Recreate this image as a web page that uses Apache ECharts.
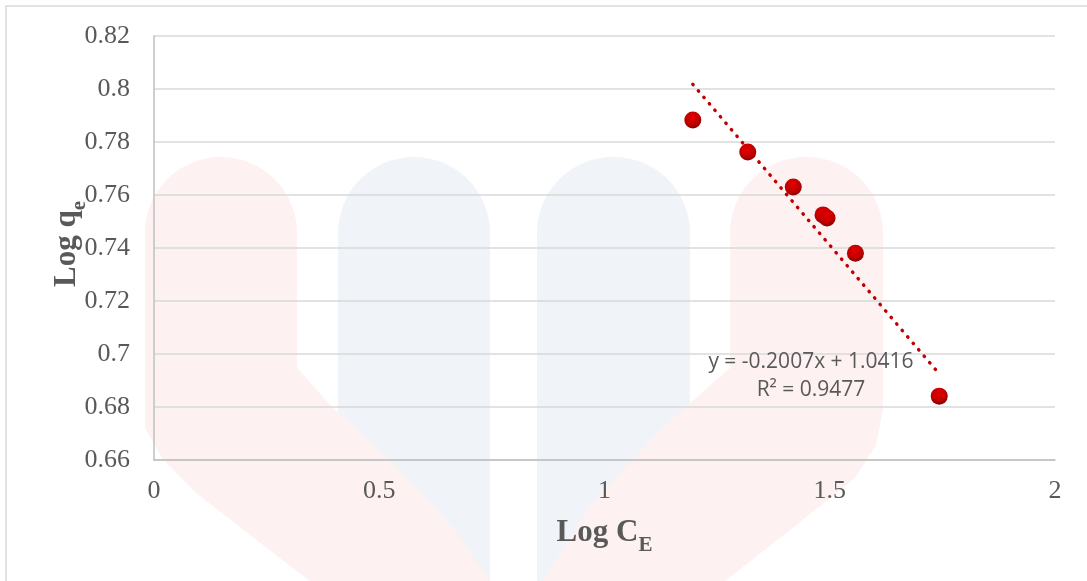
<!DOCTYPE html>
<html>
<head>
<meta charset="utf-8">
<script src="https://cdn.jsdelivr.net/npm/echarts@6/dist/echarts.min.js"></script>
<style>
html,body{margin:0;padding:0;background:#fff;}
#chart{width:1087px;height:581px;}
</style>
</head>
<body>
<div id="chart"></div>
<script>
// ---- data ----
const logCe = [1.196, 1.318, 1.419, 1.485, 1.494, 1.557, 1.743];
const logQe = [0.7883, 0.7762, 0.7630, 0.7525, 0.7513, 0.7380, 0.6841];
const trendX = [1.196, 1.743];
const trendY = [0.8018, 0.6925];
const equationLines = ['y = -0.2007x + 1.0416', 'R² = 0.9477'];
const xTicks = {min: 0, max: 2, interval: 0.5};
const yTicks = {min: 0.66, max: 0.82, interval: 0.02};

const points = logCe.map((x, i) => [x, logQe[i]]);
const trend = trendX.map((x, i) => [x, trendY[i]]);

const red = '#FDF1F1', blue = '#F0F4F8';
const wm = [
  {type:'rect', shape:{x:338,y:157,width:152,height:424,r:[76,76,0,0]}, style:{fill:blue}},
  {type:'rect', shape:{x:537,y:157,width:153,height:424,r:[76,76,0,0]}, style:{fill:blue}},
  {type:'rect', shape:{x:145,y:157,width:152,height:240,r:[76,76,0,0]}, style:{fill:red}},
  {type:'polygon', shape:{points:[[145,390],[297,390],[297,368],[330,405],[400,470],[455,530],[490,581],[310,581],[250,535],[195,492],[162,458],[145,428]]}, style:{fill:red}},
  {type:'rect', shape:{x:730,y:157,width:153,height:240,r:[76,76,0,0]}, style:{fill:red}},
  {type:'polygon', shape:{points:[[730,390],[883,390],[883,410],[876,445],[855,478],[790,530],[725,581],[543,581],[590,505],[660,430],[730,368]]}, style:{fill:red}}
].map(e => Object.assign(e, {z:-100, silent:true}));

const chart = echarts.init(document.getElementById('chart'), null, {renderer:'canvas'});
chart.setOption({
  backgroundColor:'#ffffff',
  animation:false,
  grid:{left:154, right:32, top:36, bottom:121},
  xAxis:{
    type:'value', min:xTicks.min, max:xTicks.max, interval:xTicks.interval,
    axisLine:{show:true, lineStyle:{color:'#BFBFBF', width:1.5}},
    axisTick:{show:false},
    splitLine:{show:false},
    axisLabel:{color:'#595959', fontFamily:'Liberation Serif', fontSize:26, margin:18},
    name:'{m|Log C}{s|E}', nameLocation:'middle', nameGap:52,
    nameTextStyle:{
      rich:{
        m:{fontFamily:'Liberation Serif', fontWeight:'bold', fontSize:31, color:'#595959', verticalAlign:'bottom', lineHeight:36},
        s:{fontFamily:'Liberation Serif', fontWeight:'bold', fontSize:21, color:'#595959', verticalAlign:'bottom', lineHeight:36, padding:[0,0,-8,0]}
      }
    }
  },
  yAxis:{
    type:'value', min:yTicks.min, max:yTicks.max, interval:yTicks.interval,
    axisLine:{show:true, lineStyle:{color:'#BFBFBF', width:1.5}},
    axisTick:{show:false},
    splitLine:{show:true, lineStyle:{color:'#D9D9D9', width:1.5}},
    axisLabel:{color:'#595959', fontFamily:'Liberation Serif', fontSize:26, margin:24}
  },
  graphic:{elements: wm.concat([
    {type:'rect', shape:{x:6,y:6,width:1200,height:700}, style:{fill:'none', stroke:'#D9D9D9', lineWidth:1.5}, z:-50, silent:true},
    {type:'text', x:64, y:244, rotation:Math.PI/2, z:10,
     style:{text:'{m|Log q}{s|e}', align:'center', verticalAlign:'middle',
       rich:{
         m:{fontFamily:'Liberation Serif', fontWeight:'bold', fontSize:31, fill:'#595959', verticalAlign:'bottom', lineHeight:36},
         s:{fontFamily:'Liberation Serif', fontWeight:'bold', fontSize:21, fill:'#595959', verticalAlign:'bottom', lineHeight:36, padding:[0,0,-8,0]}
       }}},
    {type:'text', x:811, y:362, z:10,
     style:{text:equationLines[0], align:'center', verticalAlign:'middle', fontFamily:'Open Sans', fontSize:21, fill:'#595959'}},
    {type:'text', x:811, y:390, z:10,
     style:{text:equationLines[1], align:'center', verticalAlign:'middle', fontFamily:'Open Sans', fontSize:21, fill:'#595959'}}
  ])},
  series:[
    {
      type:'line', data:trend, symbol:'none', z:2,
      lineStyle:{color:'#C00000', width:3.4, type:[0.5,8], cap:'round'}
    },
    {
      type:'scatter', data:points, symbol:'circle', symbolSize:17, z:3,
      itemStyle:{
        opacity:1,
        color:{type:'radial', x:0.45, y:0.35, r:0.7, colorStops:[
          {offset:0, color:'#E60000'}, {offset:0.6, color:'#C00000'}, {offset:1, color:'#7A0000'}
        ]}
      }
    }
  ]
});
</script>
</body>
</html>
